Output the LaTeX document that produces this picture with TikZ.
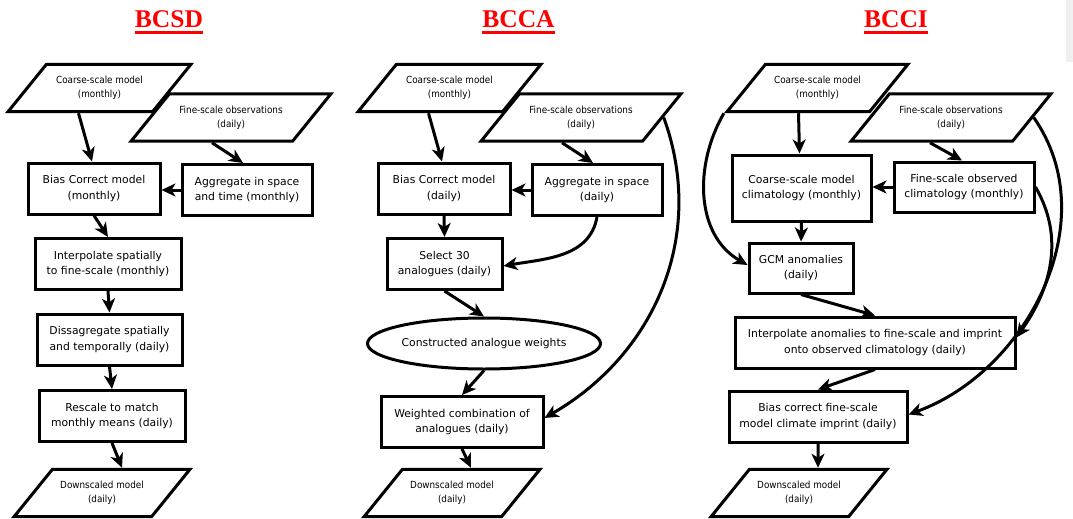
\documentclass[tikz,border=0pt]{standalone}
\usepackage{fontspec}
\setmainfont{DejaVu Sans}
\newfontfamily\iofamily{DejaVu Sans Condensed}
\newfontfamily\headfamily{Liberation Serif}
\usetikzlibrary{positioning, arrows.meta, shapes.geometric}
\tikzset{
  proc/.style={rectangle, draw, line width=3pt, minimum height=51pt, align=center,
    inner sep=2pt, font=\fontsize{10.8}{15.5}\selectfont},
  io/.style={trapezium, trapezium left angle=51, trapezium right angle=129,
    trapezium stretches body=true, draw, line width=3pt, inner xsep=0pt, inner ysep=12pt,
    align=center, font=\iofamily\fontsize{9.8}{14}\selectfont},
  weights/.style={ellipse, draw, line width=3pt, minimum width=216pt, minimum height=51pt,
    inner sep=0pt, font=\fontsize{10.8}{15.5}\selectfont},
  flow/.style={-{Stealth[length=14pt, width=13pt, inset=4pt]}, line width=3pt},
  heading/.style={text=red, anchor=base, inner sep=0pt, font=\headfamily\bfseries\fontsize{25.5}{30}\selectfont},
}

\begin{document}
\begin{tikzpicture}[x=1pt, y=1pt]
  \useasboundingbox (0,0) rectangle (1073,-519);
  \fill[gray!12] (1066,0) rectangle (1073,-62);

  \foreach \name/\x in {BCSD/169, BCCA/518.5, BCCI/896} {
    \node[heading] (t\name) at (\x,-28) {\name};
    \draw[red, line width=2.4pt] ([yshift=-4.5pt]t\name.base west) -- ([yshift=-4.5pt]t\name.base east);
  }

  % BCSD
  \node[io, minimum width=183pt] (sdCoarse) at (99.5,-88) {Coarse-scale model\\(monthly)};
  \node[io, minimum width=200pt] (sdObs) at (231,-117.5) {Fine-scale observations\\(daily)};
  \node[proc, minimum width=132pt] (sdBias) at (94,-188.5) {Bias Correct model\\(monthly)};
  \node[proc, minimum width=130pt] (sdAggr) at (247,-190) {Aggregate in space\\and time (monthly)};
  \node[proc, minimum width=146pt] (sdInterp) at (108,-264) {Interpolate spatially\\to fine-scale (monthly)};
  \node[proc, minimum width=145pt] (sdDisagg) at (109.5,-339.5) {Dissagregate spatially\\and temporally (daily)};
  \node[proc, minimum width=146pt] (sdRescale) at (112,-416) {Rescale to match\\monthly means (daily)};
  \node[io, minimum width=176pt] (sdDown) at (102,-493) {Downscaled model\\(daily)};

  \draw[flow] ([xshift=-21pt]sdCoarse.south) -- ([xshift=-2pt]sdBias.north);
  \draw[flow] ([xshift=-19pt]sdObs.south) -- ([xshift=-4pt]sdAggr.north);
  \draw[flow] (sdAggr.west) -- (sdAggr.west -| sdBias.east);
  \draw[flow] (sdBias.south) -- (sdInterp.north);
  \draw[flow] (sdInterp.south) -- (sdDisagg.north);
  \draw[flow] (sdDisagg.south) -- (sdRescale.north);
  \draw[flow] (sdRescale.south) -- ([xshift=20pt]sdDown.north);

  % BCCA
  \node[io, minimum width=183pt] (caCoarse) at (449.5,-88) {Coarse-scale model\\(monthly)};
  \node[io, minimum width=200pt] (caObs) at (581,-117.5) {Fine-scale observations\\(daily)};
  \node[proc, minimum width=132pt] (caBias) at (444,-188.5) {Bias Correct model\\(daily)};
  \node[proc, minimum width=130pt] (caAggr) at (597,-190) {Aggregate in space\\(daily)};
  \node[proc, minimum width=115pt] (caSelect) at (444.5,-264) {Select 30\\analogues (daily)};
  \node[weights] (caWeights) at (484,-343.5) {Constructed analogue weights};
  \node[proc, minimum width=162pt] (caCombine) at (462,-422) {Weighted combination of\\analogues (daily)};
  \node[io, minimum width=176pt] (caDown) at (452,-493) {Downscaled model\\(daily)};

  \draw[flow] ([xshift=-21pt]caCoarse.south) -- ([xshift=-2pt]caBias.north);
  \draw[flow] ([xshift=-19pt]caObs.south) -- ([xshift=-4pt]caAggr.north);
  \draw[flow] (caAggr.west) -- (caAggr.west -| caBias.east);
  \draw[flow] (caBias.south) -- (caSelect.north);
  \draw[flow] (caAggr.south) to[out=-100, in=10] ([yshift=-2pt]caSelect.east);
  \draw[flow] (caSelect.south) -- (caWeights.north);
  \draw[flow] (caWeights.south) -- (caCombine.north);
  \draw[flow] (caObs.east) to[out=-70, in=30] ([yshift=4pt]caCombine.east);
  \draw[flow] (caCombine.south) -- ([xshift=19pt]caDown.north);

  % BCCI
  \node[io, minimum width=181pt] (ciCoarse) at (817.5,-88) {Coarse-scale model\\(monthly)};
  \node[io, minimum width=200pt] (ciObs) at (951,-117.5) {Fine-scale observations\\(daily)};
  \node[proc, minimum width=139pt, minimum height=66pt] (ciModClim) at (801.5,-188) {Coarse-scale model\\climatology (monthly)};
  \node[proc, minimum width=140pt, minimum height=50pt] (ciObsClim) at (964,-187) {Fine-scale observed\\climatology (monthly)};
  \node[proc, minimum width=104pt, minimum height=50pt] (ciAnom) at (801,-268) {GCM anomalies\\(daily)};
  \node[proc, minimum width=280pt] (ciInterp) at (875,-342.5) {Interpolate anomalies to fine-scale and imprint\\onto observed climatology (daily)};
  \node[proc, minimum width=178pt] (ciBias) at (818,-416.5) {Bias correct fine-scale\\model climate imprint (daily)};
  \node[io, minimum width=176pt] (ciDown) at (799,-493) {Downscaled model\\(daily)};

  \draw[flow] ([xshift=-19pt]ciCoarse.south) -- ([xshift=-2pt]ciModClim.north);
  \draw[flow] ([xshift=-21pt]ciObs.south) -- ([xshift=-2pt]ciObsClim.north);
  \draw[flow] (ciObsClim.west) -- (ciObsClim.west -| ciModClim.east);
  \draw[flow] (ciModClim.south) -- (ciAnom.north);
  \draw[flow] (ciCoarse.bottom left corner) to[out=-120, in=150] ([yshift=3pt]ciAnom.west);
  \draw[flow] (ciAnom.south) -- (ciInterp.north);
  \draw[flow] (ciObsClim.east) to[out=-60, in=55] ([yshift=5pt]ciInterp.east);
  \draw[flow] (ciObs.east) to[out=-55, in=20] ([yshift=2pt]ciBias.east);
  \draw[flow] (ciInterp.south) -- (ciBias.north);
  \draw[flow] (ciBias.south) -- ([xshift=19pt]ciDown.north);
\end{tikzpicture}
\end{document}
